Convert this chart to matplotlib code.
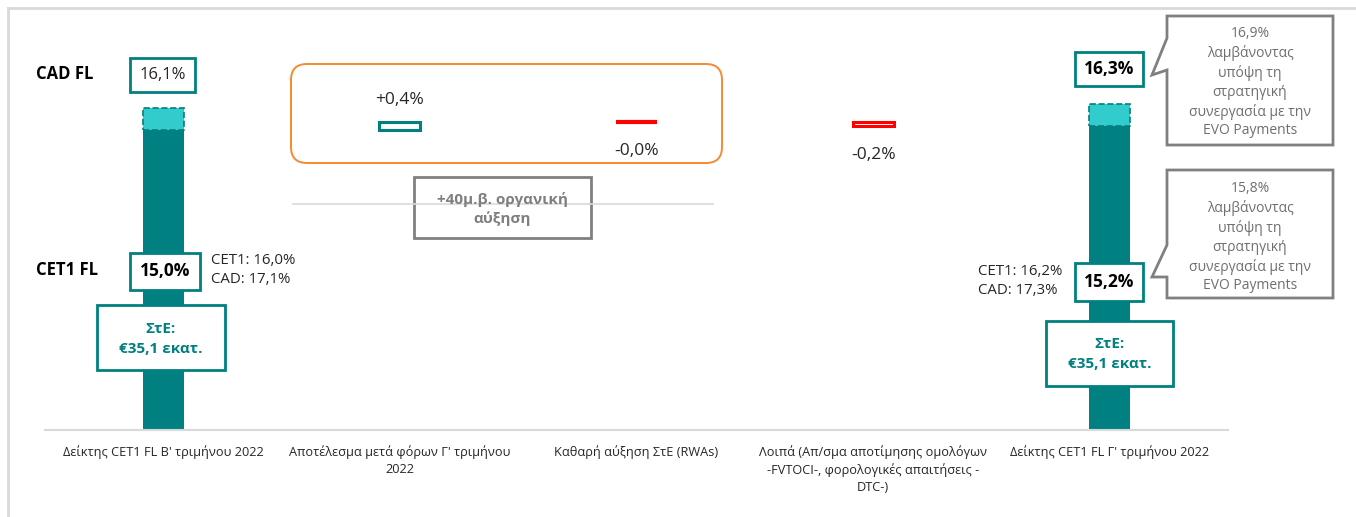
import numpy as np
import matplotlib
matplotlib.use('Agg')
import matplotlib.pyplot as plt
from matplotlib.patches import Rectangle, FancyBboxPatch, Polygon

plt.rcParams['font.family'] = ['Open Sans', 'DejaVu Sans']

# Δεδομένα
categories = ["Δείκτης CET1 FL B' τριμήνου 2022",
              "Αποτέλεσμα μετά φόρων Γ' τριμήνου\n2022",
              "Καθαρή αύξηση ΣτΕ (RWAs)",
              "Λοιπά (Απ/σμα αποτίμησης ομολόγων\n-FVTOCI-, φορολογικές απαιτήσεις -\nDTC-)",
              "Δείκτης CET1 FL Γ' τριμήνου 2022"]
cet1_totals = [15.0, 15.2]          # CET1 FL αρχή / τέλος
cad_totals = [16.1, 16.3]           # CAD FL αρχή / τέλος
changes = [0.4, -0.0, -0.2]         # βήματα καταρράκτη
side_notes = ["CET1: 16,0%\nCAD: 17,1%", "CET1: 16,2%\nCAD: 17,3%"]
rwa_label = "ΣτΕ:\n€35,1 εκατ."
evo_notes = ["16,9%\nλαμβάνοντας\nυπόψη τη\nστρατηγική\nσυνεργασία με την\nEVO Payments",
             "15,8%\nλαμβάνοντας\nυπόψη τη\nστρατηγική\nσυνεργασία με την\nEVO Payments"]
organic_label = "+40μ.β. οργανική\nαύξηση"

TEAL = '#008080'
LTEAL = '#33CCCC'
RED = '#FF0000'
GRAY = '#808080'
TXT = '#262626'

W, H = 1356, 517
fig = plt.figure(figsize=(W / 100, H / 100), dpi=100)

# κύριος άξονας: βάση στο y=430px, 20px ανά μονάδα
ax = fig.add_axes([45 / W, (H - 430) / H, (1228 - 45) / W, 400 / H])
ax.set_xlim(-0.5, 4.5)
ax.set_ylim(0, 20)
for s in ['top', 'right', 'left']:
    ax.spines[s].set_visible(False)
ax.spines['bottom'].set_color('#d9d9d9')
ax.spines['bottom'].set_linewidth(1.5)
ax.set_yticks([])
ax.set_xticks(range(len(categories)))
ax.set_xticklabels(categories, fontsize=9.2, color=TXT, linespacing=1.38)
ax.tick_params(axis='x', length=0, pad=11)

bw = 0.173
xt = [0, len(categories) - 1]
cad_gap = [c - t for c, t in zip(cad_totals, cet1_totals)]
ax.bar(xt, cet1_totals, bw, color=TEAL, zorder=2)
ax.bar(xt, cad_gap, bw, bottom=cet1_totals, color=LTEAL, edgecolor=TEAL,
       linestyle='--', linewidth=1.2, zorder=2)

running = cet1_totals[0]
for i, v in enumerate(changes, start=1):
    bottom = running if v > 0 else running + v
    col = TEAL if v > 0 else RED
    lw = 2.2 if v != 0 else 3
    ax.bar(i, abs(v), bw, bottom=bottom, facecolor='white', edgecolor=col,
           linewidth=lw, zorder=3)
    lab = format(v, '+.1f').replace('.', ',') + '%'
    if v > 0:
        ax.annotate(lab, (i, running + v), xytext=(0, 22), textcoords='offset pixels',
                    ha='center', va='center', fontsize=12.5, color=TXT)
    else:
        ax.annotate(lab, (i, running + v), xytext=(0, -29), textcoords='offset pixels',
                    ha='center', va='center', fontsize=12.5, color=TXT)
    running += v

# επικάλυψη σε pixel
ov = fig.add_axes([0, 0, 1, 1], zorder=5)
ov.set_xlim(0, W)
ov.set_ylim(H, 0)
ov.axis('off')
ov.patch.set_alpha(0)


def box(x0, y0, x1, y1, ec, lw=2):
    ov.add_patch(Rectangle((x0, y0), x1 - x0, y1 - y0, facecolor='white',
                           edgecolor=ec, linewidth=lw))


# πλαίσιο
ov.plot([8, W], [8, 8], color='#d9d9d9', lw=2)
ov.plot([8, 8], [8, H], color='#d9d9d9', lw=2)

ov.text(36, 74, 'CAD FL', fontsize=12, fontweight='bold', color='black', va='center')
ov.text(36, 270, 'CET1 FL', fontsize=12, fontweight='bold', color='black', va='center')

# ετικέτες συνόλων
box(130, 58, 195, 92, TEAL)
ov.text(162.5, 75, f"{cad_totals[0]:.1f}".replace('.', ',') + '%', fontsize=12,
        color=TXT, ha='center', va='center')
box(130, 253, 200, 290, TEAL)
ov.text(165, 271.5, f"{cet1_totals[0]:.1f}".replace('.', ',') + '%', fontsize=12.5,
        fontweight='bold', color='black', ha='center', va='center')
box(1075, 52, 1143, 86, TEAL)
ov.text(1109, 69, f"{cad_totals[1]:.1f}".replace('.', ',') + '%', fontsize=12.5,
        fontweight='bold', color='black', ha='center', va='center')
box(1075, 263, 1143, 301, TEAL)
ov.text(1109, 282, f"{cet1_totals[1]:.1f}".replace('.', ',') + '%', fontsize=12.5,
        fontweight='bold', color='black', ha='center', va='center')

ov.text(211, 270, side_notes[0], fontsize=10.8, color=TXT, va='center', linespacing=1.3)
ov.text(978, 281, side_notes[1], fontsize=10.8, color=TXT, va='center', linespacing=1.3)

# ΣτΕ
box(97, 305, 225, 370, TEAL)
ov.text(161, 339, rwa_label, fontsize=11, fontweight='bold', color=TEAL,
        ha='center', va='center', linespacing=1.5)
box(1046, 321, 1173, 386, TEAL)
ov.text(1109.5, 354, rwa_label, fontsize=11, fontweight='bold', color=TEAL,
        ha='center', va='center', linespacing=1.5)

# οργανική αύξηση
ov.plot([293, 713], [204, 204], color='#d9d9d9', lw=1.2)
ov.add_patch(FancyBboxPatch((291, 64), 431, 99, boxstyle='round,pad=0,rounding_size=16',
                            facecolor='none', edgecolor='#F58A2E', lw=1.4))
box(414, 177, 591, 238, GRAY)
ov.text(502.5, 209, organic_label, fontsize=11, fontweight='bold', color='#7f7f7f',
        ha='center', va='center', linespacing=1.3)

# callouts EVO
up = [(1167, 16), (1333, 16), (1333, 145), (1167, 145), (1167, 70), (1152, 75), (1167, 38)]
lo = [(1167, 170), (1333, 170), (1333, 298), (1167, 298), (1167, 277), (1152, 277), (1167, 245)]
for pts, note, yc in [(up, evo_notes[0], 82), (lo, evo_notes[1], 237)]:
    ov.add_patch(Polygon(pts, closed=True, facecolor='white', edgecolor=GRAY, lw=2))
    ov.text(1250, yc, note, fontsize=10, color='#6f6f6f', ha='center', va='center',
            linespacing=1.34)

fig.savefig('out.png', dpi=100)
